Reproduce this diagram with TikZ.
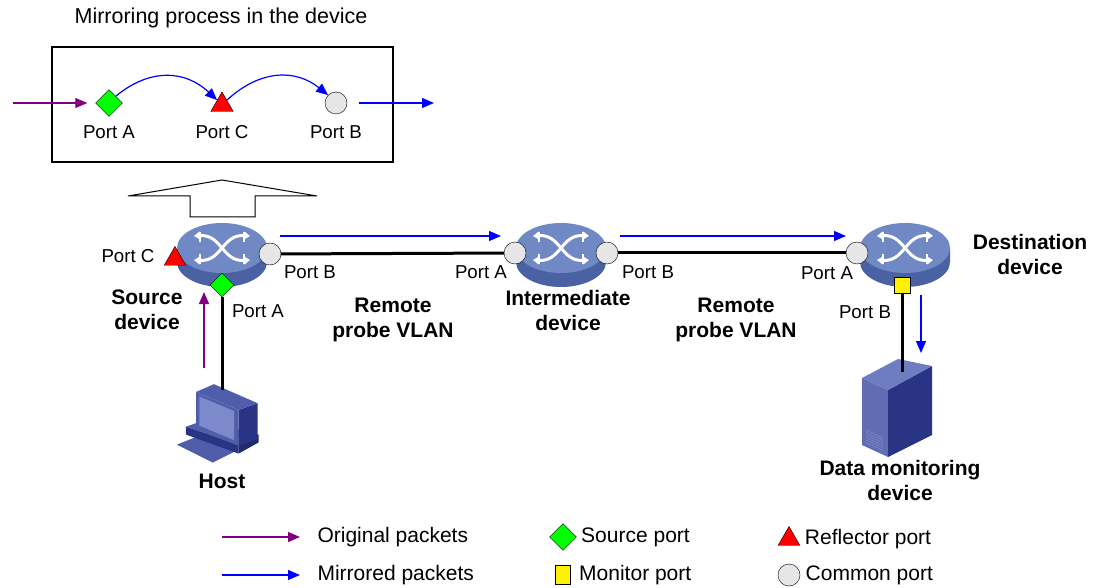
\documentclass[tikz,border=0pt]{standalone}
\usepackage{fontspec}
\setmainfont{Liberation Sans}
\usetikzlibrary{positioning, arrows.meta, shapes.geometric}

\definecolor{swtop}{HTML}{7088C4}
\definecolor{swside}{HTML}{4A62A3}
\definecolor{origpkt}{HTML}{800080}
\definecolor{mirrpkt}{HTML}{0000FF}
\definecolor{portgrey}{HTML}{E6E6E6}
\definecolor{devlight}{HTML}{7C8ACB}
\definecolor{devmid}{HTML}{4F5DAA}
\definecolor{devdark}{HTML}{2A3484}

\tikzset{
  lbl/.style={font=\fontsize{18.7}{22}\selectfont},
  leglbl/.style={font=\fontsize{21}{24}\selectfont},
  devlbl/.style={font=\bfseries\fontsize{21}{25}\selectfont, align=center},
  srcport/.style={diamond, draw, fill=green, minimum size=27pt, inner sep=0pt},
  refport/.style={regular polygon, regular polygon sides=3, draw, fill=red, minimum size=26pt, inner sep=0pt},
  monport/.style={rectangle, draw, fill=yellow, minimum size=16pt, inner sep=0pt},
  comport/.style={circle, draw, fill=portgrey, minimum size=22pt, inner sep=0pt},
  link/.style={line width=3pt},
  orig/.style={origpkt, line width=1.2pt, -{Triangle[length=12pt,width=10pt]}},
  mirr/.style={mirrpkt, line width=1.2pt, -{Triangle[length=12pt,width=10pt]}},
  % switch: cylinder with the usual white arrow pattern on top
  switch/.pic={
    \fill[swside] (-45,0) -- (-45,14) arc[start angle=180, end angle=0, x radius=45, y radius=25] -- (45,0) -- cycle;
    \fill[swtop] (0,0) ellipse[x radius=45, y radius=25];
    \draw[white, line width=3pt, {Triangle[length=6pt,width=8pt]}-{Triangle[length=6pt,width=8pt]}]
      (-28,-12) .. controls (0,-14) and (0,14) .. (28,12);
    \draw[white, line width=3pt, {Triangle[length=6pt,width=8pt]}-{Triangle[length=6pt,width=8pt]}]
      (-28,12) .. controls (0,14) and (0,-14) .. (28,-12);
    \draw[white, line width=2pt] (-22,-16) -- (-22,-6) (22,-16) -- (22,-6) (-22,16) -- (-22,6) (22,16) -- (22,6);
  },
  % desktop computer
  pc/.pic={
    \fill[devmid] (-42,22) -- (-22,14) -- (10,28) -- (-10,38) -- cycle;
    \fill[devmid] (-34,6) -- (-17,0) -- (31,13) -- (13,22) -- cycle;
    \fill[devdark] (-34,6) -- (13,22) -- (13,30) -- (-34,13) -- cycle;
    \fill[devdark!80!black] (13,22) -- (31,13) -- (31,20) -- (13,30) -- cycle;
    \fill[devdark] (13,-9) -- (30,-15) -- (30,17) -- (13,23) -- cycle;
    \fill[devmid] (-25,-25) -- (-9,-32) -- (30,-15) -- (13,-9) -- cycle;
    \fill[devmid] (-25,-25) -- (13,-9) -- (13,23) -- (-25,8) -- cycle;
    \fill[devlight] (-22,-21) -- (9,-8) -- (9,18) -- (-22,5) -- cycle;
  },
  % tower server
  server/.pic={
    \fill[devmid!90!white] (-38,-34) -- (-12,-22) -- (-12,45) -- (-38,33) -- cycle;
    \fill[devdark] (-12,-22) -- (32,-46) -- (32,23) -- (-12,45) -- cycle;
    \fill[devlight!70!devmid] (-38,-34) -- (-2,-53) -- (32,-46) -- (-12,-22) -- cycle;
    \foreach \k in {0,...,5}
      \draw[devlight, line width=.6pt] (-34,18+2.5*\k) -- (-17,26+2.5*\k);
  }
}

\begin{document}
\begin{tikzpicture}[x=1pt, y=-1pt, >=Stealth]
  \useasboundingbox (0,0) rectangle (1098,588);

  % mirroring process inside the source device
  \node[font=\fontsize{21.5}{25}\selectfont] (title) at (221,18) {Mirroring process in the device};
  \draw[line width=2pt] (52,47) rectangle (393,162);
  \node[srcport] (boxA) at (109,103) {};
  \node[refport] (boxC) at (222,105) {};
  \node[comport] (boxB) at (336,103) {};
  \node[lbl] at (109,132) {Port A};
  \node[lbl] at (222,132) {Port C};
  \node[lbl] at (336,132) {Port B};
  \coordinate (inL) at (13,103);
  \coordinate (outR) at (434,103);
  \draw[orig, shorten >=8pt] (inL) -- (boxA);
  \draw[mirr] (boxA.north east) .. controls (150,68) and (185,70) .. (boxC.north west);
  \draw[mirr] (boxC.north east) .. controls (262,68) and (297,70) .. (boxB.north west);
  \draw[mirr, shorten <=12pt] (boxB) -- (outR);

  % hollow arrow up to the box
  \draw[line width=1pt, fill=white] (190,217) -- (190,196) -- (128,196) -- (222,180)
    -- (317,196) -- (255,196) -- (255,217) -- cycle;

  % devices
  \pic at (222,248) {switch};
  \pic at (561,248) {switch};
  \pic at (905,248) {switch};
  \pic[scale=1.12] at (224,420) {pc};
  \pic at (900,412) {server};
  \coordinate (host) at (222,390);
  \coordinate (srv) at (902,372);

  % ports
  \node[srcport, minimum size=24pt] (srcA) at (222,285) {};
  \node[comport] (srcB) at (270,254) {};
  \node[refport, minimum size=25pt] (srcC) at (175,259) {};
  \node[comport] (midA) at (515,253) {};
  \node[comport] (midB) at (607,253) {};
  \node[comport] (dstA) at (857,253) {};
  \node[monport] (dstB) at (902,285) {};

  % links
  \draw[link] (srcB) -- (midA);
  \draw[link] (midB) -- (dstA);
  \draw[link] (srcA) -- (host);
  \draw[link] (dstB) -- (srv);

  % packet flow
  \coordinate (f1s) at (280,236);
  \coordinate (f1e) at (501,236);
  \coordinate (f2s) at (620,236);
  \coordinate (f2e) at (846,236);
  \coordinate (f3s) at (204,368);
  \coordinate (f3e) at (204,292);
  \coordinate (f4s) at (921,295);
  \coordinate (f4e) at (921,353);
  \draw[mirr] (f1s) -- (f1e);
  \draw[mirr] (f2s) -- (f2e);
  \draw[orig] (f3s) -- (f3e);
  \draw[mirr] (f4s) -- (f4e);

  % port labels
  \node[lbl] at (128,256) {Port C};
  \node[lbl] at (310,272) {Port B};
  \node[lbl] at (258,311) {Port A};
  \node[lbl] at (481,272) {Port A};
  \node[lbl] at (648,272) {Port B};
  \node[lbl] at (827,273) {Port A};
  \node[lbl] at (865,312) {Port B};

  % device labels
  \node[devlbl] at (147,310) {Source\\device};
  \node[devlbl] at (568,310) {Intermediate\\device};
  \node[devlbl] at (393,320) {Remote\\probe VLAN};
  \node[devlbl] at (736,320) {Remote\\probe VLAN};
  \node[devlbl] at (1030,254) {Destination\\device};
  \node[devlbl] at (900,480) {Data monitoring\\device};
  \node[devlbl] at (222,481) {Host};

  % legend
  \coordinate (l1s) at (222,537);
  \coordinate (l1e) at (300,537);
  \coordinate (l2s) at (222,575);
  \coordinate (l2e) at (300,575);
  \draw[orig] (l1s) -- (l1e);
  \draw[mirr] (l2s) -- (l2e);
  \node[leglbl, anchor=west] at (314,537) {Original packets};
  \node[leglbl, anchor=west] at (314,575) {Mirrored packets};
  \node[srcport] (legA) at (563,537) {};
  \node[leglbl, right=1pt of legA] {Source port};
  \node[monport, minimum width=15pt, minimum height=19pt] (legM) at (563,575) {};
  \node[leglbl, right=5pt of legM] {Monitor port};
  \node[refport, minimum size=25pt] (legR) at (789,539) {};
  \node[leglbl, right=5pt of legR] {Reflector port};
  \node[comport] (legC) at (789,575) {};
  \node[leglbl, right=2pt of legC] {Common port};
\end{tikzpicture}
\end{document}
